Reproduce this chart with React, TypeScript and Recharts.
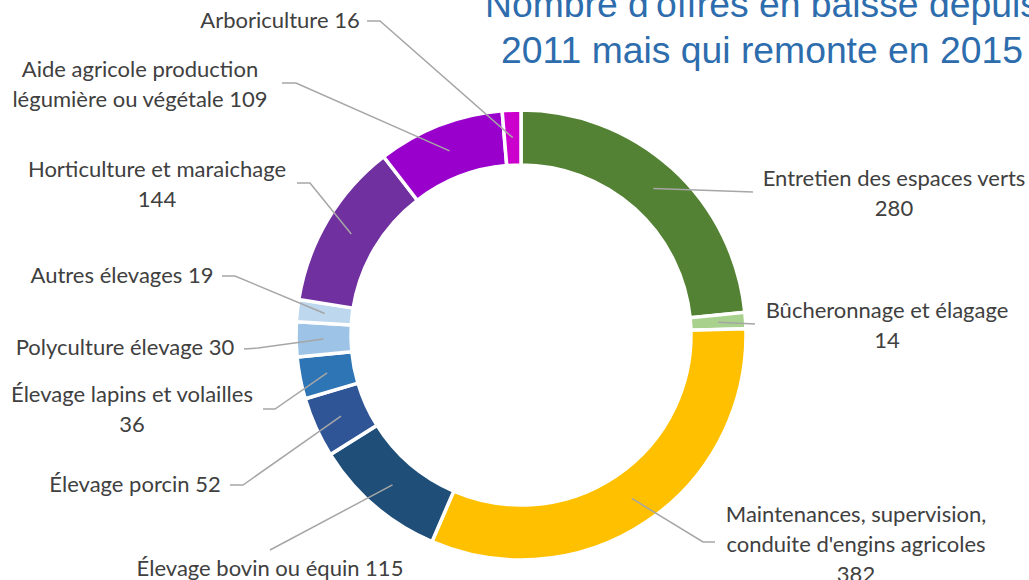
import React from "react";
import { PieChart, Pie, Cell } from "recharts";

// ---- data ----
const categories = [
  "Entretien des espaces verts",
  "Bûcheronnage et élagage",
  "Maintenances, supervision, conduite d'engins agricoles",
  "Élevage bovin ou équin",
  "Élevage porcin",
  "Élevage lapins et volailles",
  "Polyculture élevage",
  "Autres élevages",
  "Horticulture et maraichage",
  "Aide agricole production légumière ou végétale",
  "Arboriculture",
];
const values = [280, 14, 382, 115, 52, 36, 30, 19, 144, 109, 16];
// label text as displayed (line breaks); value inserted at {v}
const labelLines = [
  ["Entretien des espaces verts", "{v}"],
  ["Bûcheronnage et élagage", "{v}"],
  ["Maintenances, supervision,", "conduite d'engins agricoles", "{v}"],
  ["Élevage bovin ou équin {v}"],
  ["Élevage porcin {v}"],
  ["Élevage lapins et volailles", "{v}"],
  ["Polyculture élevage {v}"],
  ["Autres élevages {v}"],
  ["Horticulture et maraichage", "{v}"],
  ["Aide agricole production", "légumière ou végétale {v}"],
  ["Arboriculture {v}"],
];
const colors = [
  "#548235",
  "#A9D18E",
  "#FFC000",
  "#1F4E79",
  "#2F5597",
  "#2E75B6",
  "#9DC3E6",
  "#BDD7EE",
  "#7030A0",
  "#9900CC",
  "#CC00CC",
];
const title = ["Nombre d'offres en baisse depuis", "2011 mais qui remonte en 2015"];

// ---- label layout (positions only) ----
const labelPos: { x: number; y: number; path: [number, number][] }[] = [
  { x: 894, y: 186, path: [[753, 192]] },
  { x: 887, y: 318, path: [[755, 324]] },
  { x: 856, y: 522, path: [[703, 542], [715, 542]] },
  { x: 270, y: 576, path: [[270, 550]] },
  { x: 135, y: 492, path: [[243, 485], [230, 485]] },
  { x: 132, y: 402, path: [[275, 409], [263, 409]] },
  { x: 125, y: 355, path: [[258, 348], [244, 349]] },
  { x: 122, y: 283, path: [[235, 276], [222, 276]] },
  { x: 157, y: 177, path: [[310, 183], [297, 183]] },
  { x: 140, y: 77, path: [[296, 83], [282, 83]] },
  { x: 280, y: 28, path: [[380, 21], [367, 21]] },
];

const data = categories.map((name, i) => ({ name, value: values[i] }));

const RAD = Math.PI / 180;

const renderLabel = (props: any) => {
  const { cx, cy, midAngle, innerRadius, outerRadius, index } = props;
  const r = (innerRadius + outerRadius) / 2;
  const sx = cx + r * Math.cos(-midAngle * RAD);
  const sy = cy + r * Math.sin(-midAngle * RAD);
  const lp = labelPos[index];
  const pts = [[sx, sy], ...lp.path];
  const d = pts.map((p, i) => `${i === 0 ? "M" : "L"}${p[0]},${p[1]}`).join(" ");
  const lines = labelLines[index].map((l) => l.replace("{v}", String(values[index])));
  return (
    <g key={`lab-${index}`}>
      <path d={d} fill="none" stroke="#A6A6A6" strokeWidth={1.5} />
      <text
        x={lp.x}
        y={lp.y}
        textAnchor="middle"
        fill="#404040"
        style={{ fontFamily: "Lato, 'Open Sans', sans-serif", fontSize: 22 }}
      >
        {lines.map((l, i) => (
          <tspan key={i} x={lp.x} y={lp.y + i * 30}>
            {l}
          </tspan>
        ))}
      </text>
    </g>
  );
};

export default function App() {
  return (
    <div style={{ position: "absolute", left: 0, top: 0, width: 1029, height: 580, background: "#fff" }}>
      <PieChart width={1029} height={580} margin={{ top: 0, right: 0, bottom: 0, left: 0 }}>
        <text
          x={762}
          y={17}
          textAnchor="middle"
          fill="#2E6DAD"
          style={{ fontFamily: "'Liberation Sans', Arial, sans-serif", fontSize: 37.3 }}
        >
          <tspan x={762} y={17}>{title[0]}</tspan>
          <tspan x={762} y={63}>{title[1]}</tspan>
        </text>
        <Pie
          data={data}
          dataKey="value"
          nameKey="name"
          cx={521}
          cy={335}
          innerRadius={170}
          outerRadius={225}
          startAngle={90}
          endAngle={-270}
          stroke="#FFFFFF"
          strokeWidth={3.5}
          label={renderLabel}
          labelLine={false}
          isAnimationActive={false}
        >
          {data.map((d, i) => (
            <Cell key={d.name} fill={colors[i]} />
          ))}
        </Pie>
      </PieChart>
    </div>
  );
}
